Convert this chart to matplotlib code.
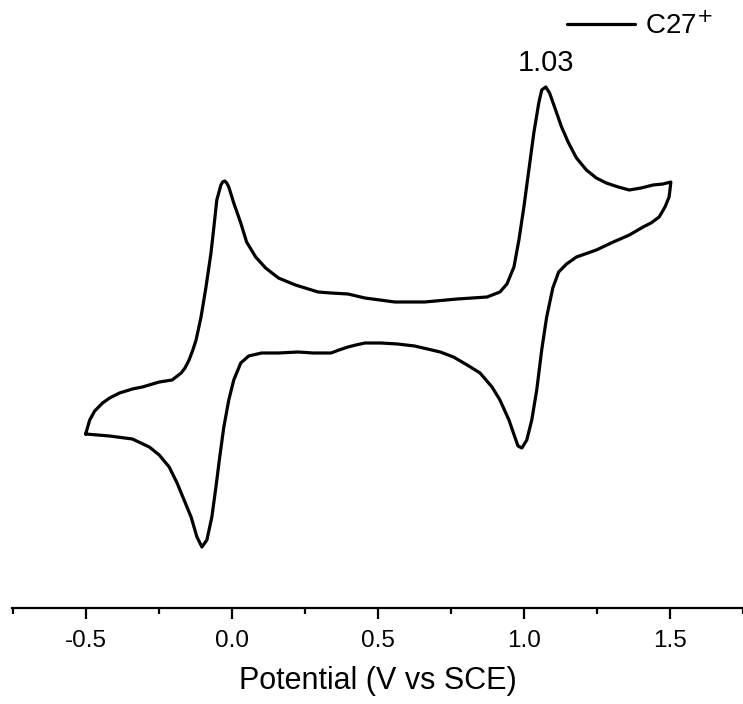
import matplotlib
matplotlib.use("Agg")
import matplotlib.pyplot as plt
import numpy as np

plt.rcParams['font.family'] = ['Liberation Sans', 'DejaVu Sans']

# Potential (V vs SCE), forward sweep (-0.5 -> 1.5 V)
fwd_E = [-0.500, -0.493, -0.486, -0.469, -0.442, -0.418, -0.384, -0.340, -0.306, -0.248,
         -0.204, -0.173, -0.160, -0.146, -0.133, -0.122, -0.105, -0.088, -0.071, -0.061,
         -0.051, -0.037, -0.031, -0.024, -0.017, -0.010, 0.007, 0.031, 0.051, 0.082,
         0.116, 0.160, 0.218, 0.296, 0.340, 0.398, 0.456, 0.558, 0.660, 0.772,
         0.874, 0.918, 0.942, 0.966, 0.983, 1.000, 1.017, 1.034, 1.051, 1.061,
         1.075, 1.088, 1.105, 1.129, 1.153, 1.180, 1.214, 1.248, 1.282, 1.323,
         1.361, 1.401, 1.442, 1.476, 1.503]
# Current (arbitrary units), forward sweep
fwd_I = [0.00, 0.35, 0.70, 1.15, 1.55, 1.80, 2.05, 2.25, 2.35, 2.60,
         2.70, 3.05, 3.30, 3.70, 4.20, 4.70, 5.85, 7.35, 9.05, 10.35,
         11.70, 12.45, 12.60, 12.65, 12.55, 12.35, 11.55, 10.55, 9.60, 8.85,
         8.30, 7.80, 7.45, 7.10, 7.05, 7.00, 6.80, 6.60, 6.60, 6.75,
         6.85, 7.10, 7.50, 8.35, 9.70, 11.35, 13.20, 15.05, 16.55, 17.20,
         17.35, 17.05, 16.35, 15.35, 14.55, 13.80, 13.20, 12.80, 12.55, 12.35,
         12.20, 12.30, 12.45, 12.50, 12.60]

# Reverse sweep (1.5 -> -0.5 V)
rev_E = [1.500, 1.497, 1.483, 1.463, 1.435, 1.408, 1.361, 1.306, 1.248, 1.180,
         1.146, 1.119, 1.099, 1.078, 1.061, 1.044, 1.027, 1.010, 0.993, 0.980,
         0.969, 0.949, 0.918, 0.891, 0.850, 0.806, 0.759, 0.714, 0.670, 0.626,
         0.568, 0.510, 0.456, 0.425, 0.398, 0.367, 0.340, 0.279, 0.228, 0.160,
         0.102, 0.058, 0.031, 0.007, -0.010, -0.027, -0.041, -0.054, -0.068, -0.085,
         -0.102, -0.119, -0.139, -0.163, -0.187, -0.214, -0.248, -0.282, -0.340, -0.418,
         -0.500]
rev_I = [12.20, 11.85, 11.35, 10.85, 10.55, 10.35, 9.95, 9.60, 9.20, 8.85,
         8.50, 8.10, 7.30, 5.85, 4.20, 2.20, 0.70, -0.30, -0.70, -0.60,
         -0.15, 0.70, 1.70, 2.35, 3.05, 3.45, 3.85, 4.10, 4.25, 4.40,
         4.50, 4.55, 4.55, 4.45, 4.35, 4.20, 4.05, 4.05, 4.10, 4.05,
         4.05, 3.90, 3.55, 2.70, 1.70, 0.35, -1.15, -2.65, -4.15, -5.30,
         -5.65, -5.15, -4.15, -3.30, -2.45, -1.65, -1.05, -0.65, -0.25, -0.10,
         0.00]

series_label = "C27$^{+}$"
peak_label = "1.03"
peak_E = 1.075
xticks = [-0.5, 0.0, 0.5, 1.0, 1.5]
xtick_labels = ["-0.5", "0.0", "0.5", "1.0", "1.5"]

W, H = 743, 704
fig = plt.figure(figsize=(W / 100, H / 100), dpi=100)
ax = fig.add_axes([12 / W, (H - 608) / H, (W - 12) / W, 608 / H])

E = fwd_E + rev_E
I = fwd_I + rev_I
ax.plot(E, I, color='black', lw=2.3, label=series_label,
        solid_joinstyle='round', solid_capstyle='round')

ax.set_xlim(-0.752, 1.735)
ax.set_ylim(-8.7, 21.7)

for s in ['top', 'right', 'left']:
    ax.spines[s].set_visible(False)
ax.spines['bottom'].set_linewidth(1.6)
ax.set_yticks([])
ax.set_xticks(xticks)
ax.set_xticklabels(xtick_labels)
ax.set_xticks(np.arange(-0.75, 1.76, 0.25), minor=True)
ax.tick_params(axis='x', which='major', direction='out', length=8, width=1.6,
               labelsize=17.5, pad=8)
ax.tick_params(axis='x', which='minor', direction='out', length=4.5, width=1.6)
ax.set_xlabel("Potential (V vs SCE)", fontsize=22, labelpad=10)

ax.text(peak_E, 18.55, peak_label, fontsize=21, ha='center', va='center')

leg = ax.legend(loc='center left', bbox_to_anchor=(567 / W, 1 - 26 / H),
                bbox_transform=fig.transFigure, frameon=False, fontsize=20,
                handlelength=2.45, handletextpad=0.36, borderpad=0,
                borderaxespad=0)

fig.savefig("out.png", dpi=100)
